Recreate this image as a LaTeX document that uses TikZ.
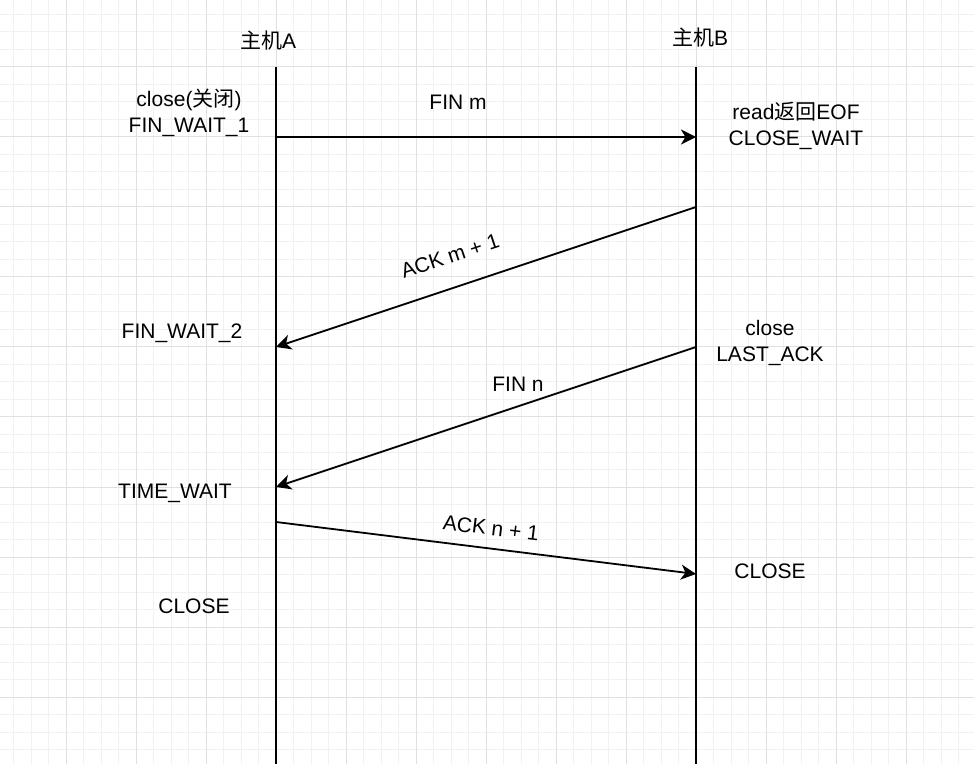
\documentclass[tikz,border=0pt]{standalone}
\usepackage{fontspec}
\setmainfont{Liberation Sans}
\newfontfamily\cjk{Noto Sans CJK SC}
\usetikzlibrary{arrows.meta}
\definecolor{minorgrid}{HTML}{F1F1F1}
\definecolor{majorgrid}{HTML}{E0E0E0}
\tikzset{
  msg/.style={-{Stealth[length=7.5pt,width=7.5pt,inset=2.2pt]},line width=0.9pt},
  life/.style={line width=0.9pt},
  lbl/.style={font=\fontsize{10.5}{13}\selectfont,align=center,inner sep=0pt},
}
\begin{document}
\begin{tikzpicture}[x=0.5pt,y=-0.5pt]
\useasboundingbox (0,0) rectangle (974,764);
\fill[white] (0,0) rectangle (974,764);
% grid
\foreach \k in {0,...,55}
  \draw[minorgrid,line width=0.5pt] ({13.5+17.5*\k},0) -- ({13.5+17.5*\k},764);
\foreach \k in {0,...,43}
  \draw[minorgrid,line width=0.5pt] (0,{14.5+17.5*\k}) -- (974,{14.5+17.5*\k});
\foreach \k in {0,...,13}
  \draw[majorgrid,line width=0.5pt] ({66+70*\k},0) -- ({66+70*\k},764);
\foreach \k in {0,...,10}
  \draw[majorgrid,line width=0.5pt] (0,{67+70*\k}) -- (974,{67+70*\k});

% lifelines
\coordinate (a0) at (276,67);
\coordinate (a1) at (276,764);
\coordinate (b0) at (696,67);
\coordinate (b1) at (696,764);
\draw[life] (a0) -- (a1);
\draw[life] (b0) -- (b1);
\node[lbl] (hostA) at (268,41) {{\cjk 主机}A};
\node[lbl] (hostB) at (700,38) {{\cjk 主机}B};

% message ends
\coordinate (finmA) at (276,137);
\coordinate (finmB) at (696,137);
\coordinate (ackmB) at (696,207);
\coordinate (ackmA) at (276,347);
\coordinate (finnB) at (696,347);
\coordinate (finnA) at (276,487);
\coordinate (acknA) at (276,522);
\coordinate (acknB) at (696,574);

\draw[msg] (finmA) -- (finmB);
\draw[msg] (ackmB) -- (ackmA);
\draw[msg] (finnB) -- (finnA);
\draw[msg] (acknA) -- (acknB);

% labels
\node[lbl] (closeA) at (189,113) {close({\cjk 关闭})\\FIN\_WAIT\_1};
\node[lbl] (finm) at (458,102) {FIN m};
\node[lbl] (readB) at (796,126) {read{\cjk 返回}EOF\\CLOSE\_WAIT};
\node[lbl,rotate=18.4] (ackm) at (450,256) {ACK m + 1};
\node[lbl] (wait2) at (182,333) {FIN\_WAIT\_2};
\node[lbl] (lastack) at (770,343) {close\\LAST\_ACK};
\node[lbl] (finn) at (518,384) {FIN n};
\node[lbl] (timewait) at (175,493) {TIME\_WAIT};
\node[lbl,rotate=-7] (ackn) at (491,528) {ACK n + 1};
\node[lbl] (closeB) at (770,571) {CLOSE};
\node[lbl] (closeA2) at (194,606) {CLOSE};
\end{tikzpicture}
\end{document}
